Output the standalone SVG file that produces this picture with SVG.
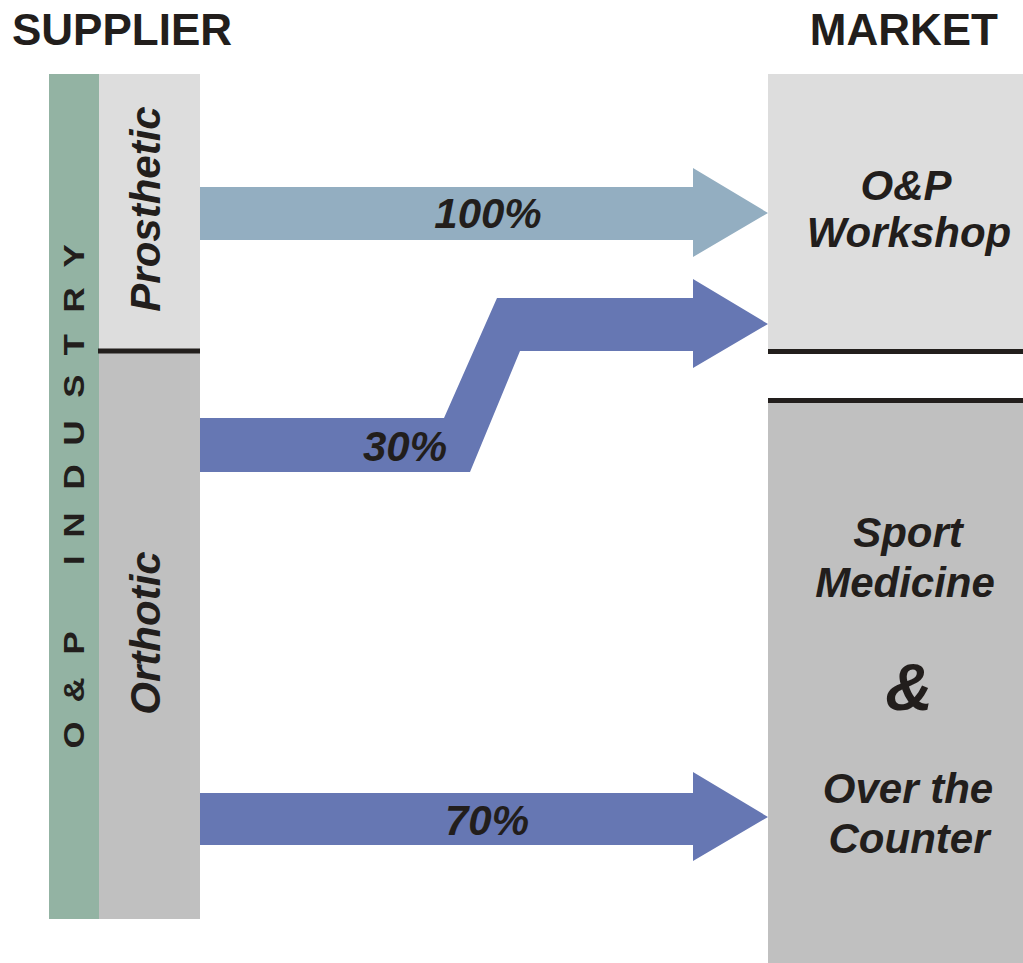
<svg xmlns="http://www.w3.org/2000/svg" width="1023" height="963" viewBox="0 0 1023 963">
<style>
.t{font-family:"Liberation Sans",Arial,sans-serif;font-weight:bold;fill:#221E1C}
.i{font-style:italic}
.m{text-anchor:middle}
.sep{stroke:#221E1C;stroke-width:5}
</style>
<rect width="1023" height="963" fill="#FFFFFF"/>
<g id="headers">
<text class="t" x="12" y="45" font-size="44">SUPPLIER</text>
<text class="t" x="998" y="45" font-size="44" text-anchor="end">MARKET</text>
</g>
<g id="industry">
<rect x="49" y="74" width="50" height="845" fill="#93B3A3"/>
<text class="t m" font-size="29" transform="rotate(-90) scale(1.2,1)" y="84"><tspan x="-612.5">O</tspan><tspan x="-575">&amp;</tspan><tspan x="-535.8">P</tspan><tspan x="-466.7">I</tspan><tspan x="-437.5">N</tspan><tspan x="-397.5">D</tspan><tspan x="-360.8">U</tspan><tspan x="-321.7">S</tspan><tspan x="-287.5">T</tspan><tspan x="-250">R</tspan><tspan x="-213.3">Y</tspan></text>
</g>
<g id="prosthetic">
<rect x="99" y="74" width="101" height="277" fill="#DDDDDD"/>
<text class="t i m" font-size="42" transform="translate(160,209) rotate(-90)" x="0" y="0">Prosthetic</text>
</g>
<g id="orthotic">
<rect x="99" y="351" width="101" height="568" fill="#C0C0C0"/>
<text class="t i m" font-size="42" transform="translate(160,633) rotate(-90)" x="0" y="0">Orthotic</text>
<line class="sep" x1="98" y1="351" x2="200" y2="351"/>
</g>
<g id="workshop">
<rect x="768" y="74" width="255" height="277" fill="#DDDDDD"/>
<line class="sep" x1="768" y1="351.5" x2="1023" y2="351.5"/>
<text class="t i m" font-size="42" x="906" y="200">O&amp;P</text>
<text class="t i m" font-size="42" x="909" y="247">Workshop</text>
</g>
<g id="sport">
<rect x="768" y="401" width="255" height="562" fill="#C0C0C0"/>
<line class="sep" x1="768" y1="400.5" x2="1023" y2="400.5"/>
<text class="t i m" font-size="42" x="908" y="547">Sport</text>
<text class="t i m" font-size="42" x="905" y="597">Medicine</text>
<text class="t i m" font-size="66" x="909" y="710">&amp;</text>
<text class="t i m" font-size="42" x="908" y="803">Over the</text>
<text class="t i m" font-size="42" x="909" y="853">Counter</text>
</g>
<g id="connectors">
<polygon points="200,187 693,187 693,168 768,213 693,257 693,240 200,240" fill="#93AEC1"/>
<polygon points="200,418 444,418 497,298 693,298 693,279 768,324 693,368 693,351 520,351 470,472 200,472" fill="#6677B3"/>
<polygon points="200,793 693,793 693,772 768,817 693,861 693,845 200,845" fill="#6677B3"/>
<text class="t i m" font-size="42" x="488" y="228">100%</text>
<text class="t i m" font-size="42" x="405" y="461">30%</text>
<text class="t i m" font-size="42" x="487" y="835">70%</text>
</g>
</svg>
